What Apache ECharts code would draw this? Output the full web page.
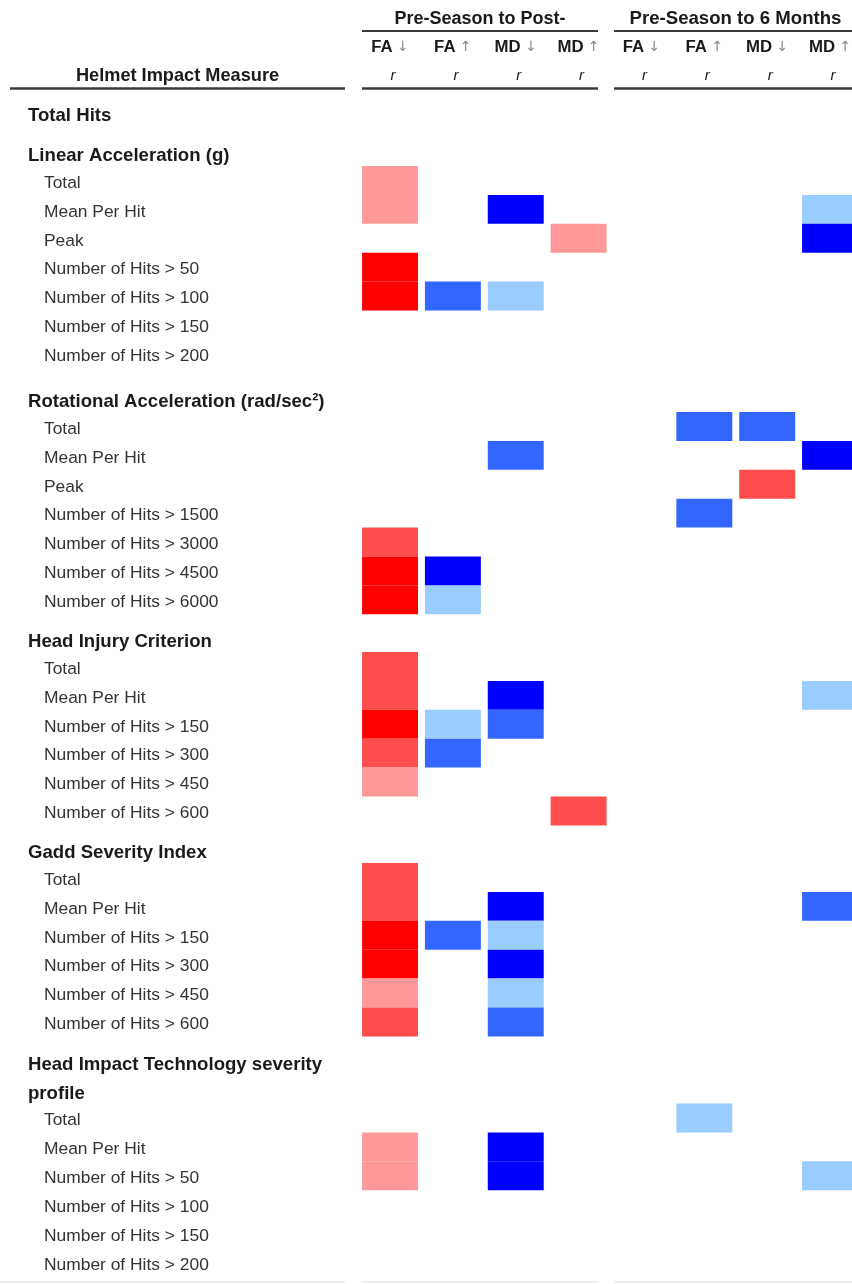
<!DOCTYPE html>
<html>
<head>
<meta charset="utf-8">
<script src="https://cdn.jsdelivr.net/npm/echarts@6/dist/echarts.min.js"></script>
<style>
  html, body { margin: 0; padding: 0; background: #ffffff; }
  #chart { width: 852px; height: 1284px; }
</style>
</head>
<body>
<div id="chart"></div>
<script>
// Column headings: two follow-up periods, four correlation columns in each
const periods = ['Pre-Season to Post-', 'Pre-Season to 6 Months'];
const columnMeasures = ['FA', 'FA', 'MD', 'MD', 'FA', 'FA', 'MD', 'MD'];
const columnArrows = ['↓', '↑', '↓', '↑', '↓', '↑', '↓', '↑'];
const columnStat = 'r';

// Row labels
const tableHeading = 'Helmet Impact Measure';
const totalHitsLabel = 'Total Hits';
const linearTitle = ['Linear Acceleration (g)'];
const linearRows = ['Total', 'Mean Per Hit', 'Peak', 'Number of Hits > 50', 'Number of Hits > 100', 'Number of Hits > 150', 'Number of Hits > 200'];
const rotationalTitle = ['Rotational Acceleration (rad/sec²)'];
const rotationalRows = ['Total', 'Mean Per Hit', 'Peak', 'Number of Hits > 1500', 'Number of Hits > 3000', 'Number of Hits > 4500', 'Number of Hits > 6000'];
const hicTitle = ['Head Injury Criterion'];
const hicRows = ['Total', 'Mean Per Hit', 'Number of Hits > 150', 'Number of Hits > 300', 'Number of Hits > 450', 'Number of Hits > 600'];
const gsiTitle = ['Gadd Severity Index'];
const gsiRows = ['Total', 'Mean Per Hit', 'Number of Hits > 150', 'Number of Hits > 300', 'Number of Hits > 450', 'Number of Hits > 600'];
const hitspTitle = ['Head Impact Technology severity', 'profile'];
const hitspRows = ['Total', 'Mean Per Hit', 'Number of Hits > 50', 'Number of Hits > 100', 'Number of Hits > 150', 'Number of Hits > 200'];

// Correlation strength per cell: 3/2/1 = strong/moderate/weak (red),
// -1/-2/-3 = weak/moderate/strong (blue), 0 = no significant correlation
const linearLevels = [
  [1, 0, 0, 0, 0, 0, 0, 0],
  [1, 0, -3, 0, 0, 0, 0, -1],
  [0, 0, 0, 1, 0, 0, 0, -3],
  [3, 0, 0, 0, 0, 0, 0, 0],
  [3, -2, -1, 0, 0, 0, 0, 0],
  [0, 0, 0, 0, 0, 0, 0, 0],
  [0, 0, 0, 0, 0, 0, 0, 0]
];
const rotationalLevels = [
  [0, 0, 0, 0, 0, -2, -2, 0],
  [0, 0, -2, 0, 0, 0, 0, -3],
  [0, 0, 0, 0, 0, 0, 2, 0],
  [0, 0, 0, 0, 0, -2, 0, 0],
  [2, 0, 0, 0, 0, 0, 0, 0],
  [3, -3, 0, 0, 0, 0, 0, 0],
  [3, -1, 0, 0, 0, 0, 0, 0]
];
const hicLevels = [
  [2, 0, 0, 0, 0, 0, 0, 0],
  [2, 0, -3, 0, 0, 0, 0, -1],
  [3, -1, -2, 0, 0, 0, 0, 0],
  [2, -2, 0, 0, 0, 0, 0, 0],
  [1, 0, 0, 0, 0, 0, 0, 0],
  [0, 0, 0, 2, 0, 0, 0, 0]
];
const gsiLevels = [
  [2, 0, 0, 0, 0, 0, 0, 0],
  [2, 0, -3, 0, 0, 0, 0, -2],
  [3, -2, -1, 0, 0, 0, 0, 0],
  [3, 0, -3, 0, 0, 0, 0, 0],
  [1, 0, -1, 0, 0, 0, 0, 0],
  [2, 0, -2, 0, 0, 0, 0, 0]
];
const hitspLevels = [
  [0, 0, 0, 0, 0, -1, 0, 0],
  [1, 0, -3, 0, 0, 0, 0, 0],
  [1, 0, -3, 0, 0, 0, 0, -1],
  [0, 0, 0, 0, 0, 0, 0, 0],
  [0, 0, 0, 0, 0, 0, 0, 0],
  [0, 0, 0, 0, 0, 0, 0, 0]
];

// ---- layout ----
const FONT = '"Liberation Sans", Arial, Helvetica, sans-serif';
const ROW_H = 28.9;          // height of one table row
const GRID_LEFT = 358.6;     // left edge of the first correlation column
const COL_W = 62.86;         // width of one correlation column
const LABEL_X = 44;          // indent of the row labels
const HEAD_X = 28;           // indent of the section headings
const HEAD_LINE = 29;        // line spacing of section headings

const sections = [
  { title: linearTitle, rows: linearRows, levels: linearLevels, top: 166 },
  { title: rotationalTitle, rows: rotationalRows, levels: rotationalLevels, top: 412 },
  { title: hicTitle, rows: hicRows, levels: hicLevels, top: 652 },
  { title: gsiTitle, rows: gsiRows, levels: gsiLevels, top: 863 },
  { title: hitspTitle, rows: hitspRows, levels: hitspLevels, top: 1103.5 }
];

const colIdx = columnMeasures.map((_, i) => String(i));

const grids = [], xAxes = [], yAxes = [], series = [];
const graphics = [];

function renderCell(params, api) {
  const level = api.value(2);
  if (!level) return null;
  const c = api.coord([api.value(0), api.value(1)]);
  const band = api.size([1, 1]);
  const w = band[0] * 0.89;
  const h = band[1];
  return {
    type: 'rect',
    shape: { x: c[0] - w / 2, y: c[1] - h / 2, width: w, height: h },
    style: { fill: api.visual('color') }
  };
}

sections.forEach((sec, si) => {
  grids.push({
    left: GRID_LEFT,
    top: sec.top,
    width: COL_W * columnMeasures.length,
    height: ROW_H * sec.rows.length,
    containLabel: false,
    outerBoundsMode: 'none'
  });
  const isFirst = si === 0;
  xAxes.push({
    type: 'category',
    gridIndex: si,
    position: 'top',
    data: colIdx,
    show: isFirst,
    axisLine: { show: false },
    axisTick: { show: false },
    splitLine: { show: false },
    axisLabel: {
      show: isFirst,
      interval: 0,
      margin: 75.5,
      lineHeight: 29,
      formatter: (v) => {
        const i = Number(v);
        return '{m|' + columnMeasures[i] + '}{a| ' + columnArrows[i] + '}\n{r|' + columnStat + '}';
      },
      rich: {
        m: { fontFamily: FONT, fontWeight: 'bold', fontSize: 16.8, color: '#1a1a1a', lineHeight: 29 },
        a: { fontFamily: 'DejaVu Sans, ' + FONT, fontSize: 14, color: '#8a8a8a', lineHeight: 29 },
        r: { fontFamily: FONT, fontStyle: 'italic', fontSize: 15, color: '#1a1a1a', lineHeight: 29, padding: [0, 0, 0, 6] }
      }
    }
  });
  yAxes.push({
    type: 'category',
    gridIndex: si,
    inverse: true,
    data: sec.rows,
    axisLine: { show: false },
    axisTick: { show: false },
    splitLine: { show: false },
    axisLabel: {
      interval: 0,
      align: 'left',
      verticalAlign: 'middle',
      margin: GRID_LEFT - LABEL_X,
      formatter: (v) => '{l|' + v + '}',
      rich: {
        l: { fontFamily: FONT, fontSize: 17.4, color: '#333333', padding: [5, 0, 0, 0] }
      }
    }
  });
  const data = [];
  sec.levels.forEach((row, r) => {
    row.forEach((lv, c) => { if (lv !== 0) data.push([c, r, lv]); });
  });
  series.push({
    type: 'custom',
    xAxisIndex: si,
    yAxisIndex: si,
    renderItem: renderCell,
    encode: { x: 0, y: 1 },
    data: data,
    silent: true
  });
  // section heading (one or two lines) above the block
  const n = sec.title.length;
  sec.title.forEach((t, k) => {
    graphics.push({
      type: 'text',
      x: HEAD_X,
      y: sec.top - 10 - (n - 1 - k) * HEAD_LINE,
      style: {
        text: t,
        font: 'bold 18.6px ' + FONT,
        fill: '#1a1a1a',
        align: 'left', verticalAlign: 'middle',
        textAlign: 'left', textVerticalAlign: 'middle'
      }
    });
  });
});

// "Total Hits" heading row (no cells)
graphics.push({
  type: 'text', x: HEAD_X, y: 116,
  style: { text: totalHitsLabel, font: 'bold 18.6px ' + FONT, fill: '#1a1a1a',
    align: 'left', verticalAlign: 'middle', textAlign: 'left', textVerticalAlign: 'middle' }
});

// table header
graphics.push({
  type: 'text', x: 177.5, y: 76,
  style: { text: tableHeading, font: 'bold 18.2px ' + FONT, fill: '#1a1a1a',
    align: 'center', verticalAlign: 'middle', textAlign: 'center', textVerticalAlign: 'middle' }
});
const periodSpans = [[362, 598], [614, 852]];
const periodCentres = [480, 735.5];
const periodSizes = [18, 18.6];
periods.forEach((p, i) => {
  const [x0, x1] = periodSpans[i];
  graphics.push({
    type: 'text', x: periodCentres[i], y: 19,
    style: { text: p, font: 'bold ' + periodSizes[i] + 'px ' + FONT, fill: '#1a1a1a',
      align: 'center', verticalAlign: 'middle', textAlign: 'center', textVerticalAlign: 'middle' }
  });
  graphics.push({ type: 'line', shape: { x1: x0, y1: 31, x2: x1, y2: 31 },
    style: { stroke: '#3a3a3a', lineWidth: 2 } });
  graphics.push({ type: 'line', shape: { x1: x0, y1: 88.5, x2: x1, y2: 88.5 },
    style: { stroke: '#3a3a3a', lineWidth: 2.5 } });
});
graphics.push({ type: 'line', shape: { x1: 10, y1: 88.5, x2: 345, y2: 88.5 },
  style: { stroke: '#3a3a3a', lineWidth: 2.5 } });
// faint closing rule
[[0, 345], [362, 598], [614, 852]].forEach(([a, b]) => {
  graphics.push({ type: 'line', shape: { x1: a, y1: 1282, x2: b, y2: 1282 },
    style: { stroke: '#eeeeee', lineWidth: 2 } });
});

const option = {
  backgroundColor: '#ffffff',
  animation: false,
  grid: grids,
  xAxis: xAxes,
  yAxis: yAxes,
  visualMap: {
    type: 'piecewise',
    show: false,
    dimension: 2,
    seriesIndex: series.map((_, i) => i),
    pieces: [
      { value: 3, color: '#ff0000' },
      { value: 2, color: '#ff4d4d' },
      { value: 1, color: '#ff9999' },
      { value: -1, color: '#99ccff' },
      { value: -2, color: '#3366ff' },
      { value: -3, color: '#0000ff' }
    ]
  },
  series: series,
  graphic: graphics
};

const chart = echarts.init(document.getElementById('chart'), null, { renderer: 'canvas' });
chart.setOption(option);
</script>
</body>
</html>
